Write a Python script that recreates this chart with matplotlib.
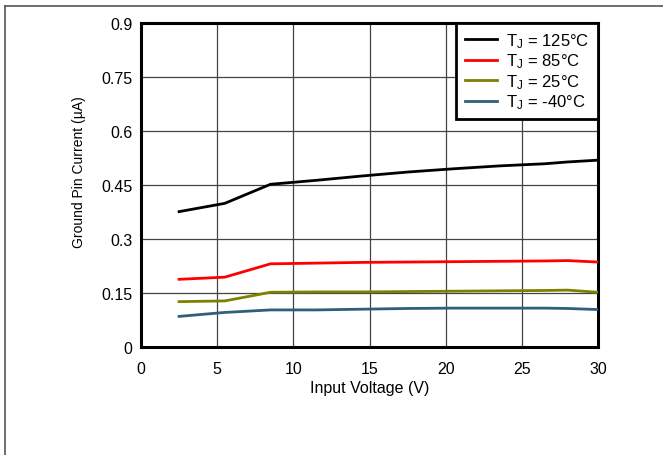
import matplotlib
matplotlib.use("Agg")
import matplotlib.pyplot as plt
from matplotlib.lines import Line2D

plt.rcParams['font.family'] = ['Liberation Sans', 'DejaVu Sans']
plt.rcParams['mathtext.fontset'] = 'custom'
plt.rcParams['mathtext.rm'] = 'Liberation Sans'

# input voltage (V)
vin = [2.5, 5.5, 8.5, 11.5, 14.5, 17.5, 20.5, 23.5, 26.5, 28, 30]

# ground pin current (uA)
i_125 = [0.376, 0.399, 0.452, 0.463, 0.475, 0.486, 0.495, 0.503, 0.509, 0.514, 0.519]
i_85 = [0.188, 0.194, 0.231, 0.233, 0.235, 0.236, 0.237, 0.238, 0.239, 0.240, 0.236]
i_25 = [0.126, 0.128, 0.152, 0.153, 0.153, 0.154, 0.155, 0.156, 0.157, 0.158, 0.152]
i_m40 = [0.085, 0.096, 0.103, 0.103, 0.105, 0.107, 0.108, 0.108, 0.108, 0.107, 0.104]

labels = [r'$\mathregular{T_J}$ = 125°C', r'$\mathregular{T_J}$ = 85°C',
          r'$\mathregular{T_J}$ = 25°C', r'$\mathregular{T_J}$ = -40°C']
colors = ['#000000', '#ff0000', '#808000', '#2f5f7a']

xticks = [0, 5, 10, 15, 20, 25, 30]
yticks = [0, 0.15, 0.3, 0.45, 0.6, 0.75, 0.9]
ytick_labels = ['0', '0.15', '0.3', '0.45', '0.6', '0.75', '0.9']

fig = plt.figure(figsize=(6.63, 4.56), dpi=100)
ax = fig.add_axes([141 / 663, 1 - 348 / 456, 457 / 663, 324 / 456])

for ys, c, lab in zip([i_125, i_85, i_25, i_m40], colors, labels):
    ax.plot(vin, ys, color=c, lw=2, label=lab, zorder=3)

ax.set_xlim(0, 30)
ax.set_ylim(0, 0.9)
ax.set_xticks(xticks)
ax.set_yticks(yticks)
ax.set_yticklabels(ytick_labels)
ax.tick_params(length=0, labelsize=11.5)
ax.tick_params(axis='x', pad=10)
ax.tick_params(axis='y', pad=6)
ax.grid(True, color='#444444', lw=0.9)
for s in ax.spines.values():
    s.set_linewidth(2.2)

ax.set_xlabel('Input Voltage (V)', fontsize=11.5, labelpad=3)
ax.set_ylabel('Ground Pin Current (µA)', fontsize=10)
ax.yaxis.set_label_coords(-0.12, 0.543)

leg = ax.legend(loc='upper right', bbox_to_anchor=(1, 1), borderaxespad=0,
                fontsize=12, fancybox=False, framealpha=1, edgecolor='black',
                handlelength=1.95, handletextpad=0.55, labelspacing=0.1,
                borderpad=0.5)
leg.get_frame().set_linewidth(2)
leg.set_zorder(5)

# outer frame (top and left)
fig.add_artist(Line2D([5 / 663, 5 / 663], [0, 1 - 7 / 456], color='#555555', lw=1.2))
fig.add_artist(Line2D([5 / 663, 1], [1 - 7 / 456, 1 - 7 / 456], color='#555555', lw=1.2))

fig.savefig('out.png', dpi=100)
